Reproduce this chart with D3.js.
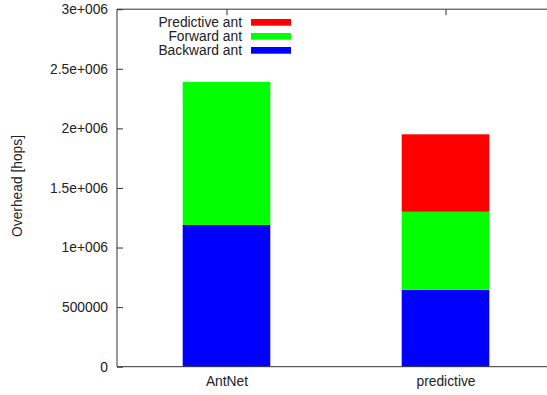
<!DOCTYPE html>
<html>
<head>
<meta charset="utf-8">
<script src="https://cdn.jsdelivr.net/npm/d3@7"></script>
<style>
  body { margin: 0; background: #fff; }
  svg { display: block; font-family: "Liberation Sans", Arial, sans-serif; }
</style>
</head>
<body>
<svg id="chart" width="547" height="395"></svg>
<script>
const categories = ["AntNet", "predictive"];
const backwardAnt = [1190000, 645000];
const forwardAnt = [1200000, 655000];
const predictiveAnt = [0, 650000];
const yTicks = [0, 500000, 1000000, 1500000, 2000000, 2500000, 3000000];
const seriesNames = ["Backward ant", "Forward ant", "Predictive ant"];
const seriesColors = ["#0000ff", "#00ff00", "#ff0000"];

const svg = d3.select("#chart");
const fontSize = "13.8px";

// category i sits at x = i, gnuplot style range [-0.5, 1.5]
const x = d3.scaleLinear().domain([-0.5, 1.5]).range([117, 555]);
const y = d3.scaleLinear().domain([0, 3000000]).range([366.7, 9.2]);
const barWidth = x(0.4) - x(0);

const rows = categories.map((c, i) => ({
    cat: c, i: i,
    "Backward ant": backwardAnt[i],
    "Forward ant": forwardAnt[i],
    "Predictive ant": predictiveAnt[i]
}));
const stacked = d3.stack().keys(seriesNames)(rows);

const g = svg.append("g");

g.selectAll(".layer")
    .data(stacked)
    .enter()
    .append("g")
    .attr("class", "layer")
    .attr("fill", (d, k) => seriesColors[k])
    .selectAll("rect")
    .data(d => d.filter(p => p[1] > p[0]))
    .enter()
    .append("rect")
    .attr("x", d => x(d.data.i) - barWidth / 2)
    .attr("width", barWidth)
    .attr("y", d => y(d[1]))
    .attr("height", d => y(d[0]) - y(d[1]));

// left axis, inward ticks
const yAxis = g.append("g")
    .attr("transform", `translate(${x(-0.5)},0)`)
    .call(d3.axisLeft(y).tickValues(yTicks).tickSize(-6).tickPadding(9)
        .tickFormat(d => d >= 1000000 ? (d / 1000000) + "e+006" : String(d)));
yAxis.select(".domain").attr("stroke", "#333").attr("d", `M0,${y(0)}V${y(3000000)}`);
yAxis.selectAll(".tick line").attr("stroke", "#333");
yAxis.selectAll(".tick text").attr("fill", "#222").style("font-size", fontSize);

// bottom axis
const xAxis = g.append("g")
    .attr("transform", `translate(0,${y(0)})`)
    .call(d3.axisBottom(x).tickValues([0, 1]).tickSize(-6).tickPadding(10)
        .tickFormat(i => categories[i]));
xAxis.select(".domain").attr("stroke", "#333").attr("d", `M${x(-0.5)},0H${x(1.5)}`);
xAxis.selectAll(".tick line").attr("stroke", "none");
xAxis.selectAll(".tick text").attr("fill", "#222").style("font-size", fontSize);

// top border with mirrored ticks
const topAxis = g.append("g")
    .attr("transform", `translate(0,${y(3000000)})`)
    .call(d3.axisTop(x).tickValues([0, 1]).tickSize(-6).tickFormat(""));
topAxis.select(".domain").attr("stroke", "#333").attr("d", `M${x(-0.5)},0H${x(1.5)}`);
topAxis.selectAll(".tick line").attr("stroke", "#333");

// y label
svg.append("text")
    .attr("transform", "translate(22,186) rotate(-90)")
    .attr("text-anchor", "middle")
    .attr("fill", "#222")
    .style("font-size", fontSize)
    .text("Overhead [hops]");

// legend, top entry is the last stacked series
const legendOrder = seriesNames.slice().reverse();
const legendColors = seriesColors.slice().reverse();
const legend = svg.append("g").attr("transform", "translate(0,22.3)");
legendOrder.forEach((name, k) => {
    const row = legend.append("g").attr("transform", `translate(0,${k * 14})`);
    row.append("text")
        .attr("x", 242)
        .attr("y", 0)
        .attr("dy", "0.35em")
        .attr("text-anchor", "end")
        .attr("fill", "#222")
        .style("font-size", fontSize)
        .text(name);
    row.append("rect")
        .attr("x", 251)
        .attr("y", -3.3)
        .attr("width", 40)
        .attr("height", 6.7)
        .attr("fill", legendColors[k]);
});
</script>
</body>
</html>
